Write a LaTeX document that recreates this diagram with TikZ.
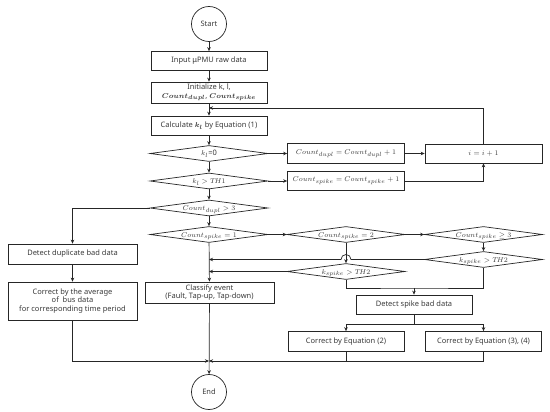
\documentclass[tikz,border=0pt]{standalone}
\usepackage{fontspec}
\setmainfont{Noto Sans}
\usepackage{amsmath}
\usepackage{bm}
\DeclareMathSizes{7.5}{7.5}{6}{5}
\usetikzlibrary{shapes.geometric,arrows.meta}
\definecolor{ink}{HTML}{262626}
\definecolor{textInk}{HTML}{3A3A3A}
\tikzset{
  process box/.style={
    draw=ink,
    fill=white,
    line width=0.7pt,
    font=\fontsize{7.5}{8.6}\selectfont,
    align=center,
    inner sep=0pt,
    text=textInk
  },
  terminal/.style={
    circle,
    draw=ink,
    line width=0.7pt,
    minimum size=35pt,
    inner sep=0pt,
    font=\fontsize{7.5}{9}\selectfont,
    text=textInk
  },
  decision/.style={
    diamond,
    aspect=7,
    draw=ink,
    fill=white,
    line width=0.7pt,
    minimum width=118pt,
    minimum height=16pt,
    inner sep=0pt,
    text height=5pt,
    text depth=0pt,
    font=\fontsize{7.5}{9}\selectfont,
    text=textInk
  },
  flow edge/.style={
    -{Stealth[length=4pt,width=3.5pt]},
    draw=ink,
    line width=0.7pt
  },
  flow line/.style={
    draw=ink,
    line width=0.7pt
  }
}

\begin{document}
\begin{tikzpicture}[x=1pt,y=-1pt]
  \useasboundingbox (0,0) rectangle (550,412);

  % main column
  \node[terminal] (start) at (209,24) {Start};
  \node[process box,minimum width=116pt,minimum height=19pt] (input) at (209,61) {Input μPMU raw data};
  \node[process box,minimum width=116pt,minimum height=21pt] (init) at (209,92.5)
    {Initialize k, l,\\ $\bm{Count_{dupl}}$, $\bm{Count_{spike}}$};
  \node[process box,minimum width=116pt,minimum height=19pt] (calc) at (209,125.5)
    {Calculate $\bm{k_l}$ by Equation (1)};
  \node[decision] (dKzero) at (209,153.5) {$k_l$=0};
  \node[decision] (dKth1) at (209,181) {$k_l > T\!H1$};
  \node[decision] (dDupl3) at (209,208) {$Count_{dupl} > 3$};
  \node[decision] (dSpike1) at (209,234.5) {$Count_{spike} = 1$};
  \node[process box,minimum width=129pt,minimum height=21pt] (classify) at (209.5,292.5)
    {Classify event\\(Fault, Tap-up, Tap-down)};
  \node[terminal] (stop) at (209,392) {End};

  % counters
  \node[process box,minimum width=117pt,minimum height=20pt] (dupInc) at (346,153.5)
    {$Count_{dupl} = Count_{dupl} + 1$};
  \node[process box,minimum width=117pt,minimum height=19pt] (spikeInc) at (346,181)
    {$Count_{spike} = Count_{spike} + 1$};
  \node[process box,minimum width=117pt,minimum height=19pt] (iInc) at (483.5,153.5) {$i = i + 1$};

  % duplicate branch
  \node[process box,minimum width=129pt,minimum height=20pt] (detDup) at (72.5,254) {Detect duplicate bad data};
  \node[process box,minimum width=129pt,minimum height=38pt] (corAvg) at (72.5,301)
    {Correct by the average\\of~ bus data\\for corresponding time period};

  % spike branch
  \node[decision] (dSpike2) at (346,234.5) {$Count_{spike} = 2$};
  \node[decision] (dSpike3) at (483.5,234.5) {$Count_{spike} \geq 3$};
  \node[decision] (dKth2a) at (483.5,259.5) {$k_{spike} > T\!H2$};
  \node[decision] (dKth2b) at (346,271.5) {$k_{spike} > T\!H2$};
  \node[process box,minimum width=116pt,minimum height=19pt] (detSpike) at (414,304.5) {Detect spike bad data};
  \node[process box,minimum width=116pt,minimum height=20pt] (corEq2) at (346,341.5) {Correct by Equation (2)};
  \node[process box,minimum width=116pt,minimum height=20pt] (corEq34) at (483.5,341.5) {Correct by Equation (3), (4)};

  \coordinate (loopIn) at (209,108);
  \coordinate (spikeMerge) at (414,288);
  \coordinate (spikeSplit) at (414,324);
  \coordinate (endMerge) at (209,361);

  \draw[flow edge] (start) -- (input);
  \draw[flow edge] (input) -- (init);
  \draw[flow edge] (init) -- (calc);
  \draw[flow edge] (calc) -- (dKzero);
  \draw[flow edge] (dKzero) -- (dKth1);
  \draw[flow edge] (dKth1) -- (dDupl3);
  \draw[flow edge] (dDupl3) -- (dSpike1);
  \draw[flow edge] (dSpike1) -- (classify);
  \draw[flow edge] (classify) -- (stop);

  \draw[flow edge] (dKzero.east) -- (dupInc.west);
  \draw[flow edge] (dupInc.east) -- (iInc.west);
  \draw[flow edge] (dKth1.east) -- (spikeInc.west);
  \draw[flow edge] (spikeInc.east) -| (iInc.south);
  \draw[flow edge] (iInc.north) |- (loopIn);

  \draw[flow edge] (dDupl3.west) -| (detDup.north);
  \draw[flow edge] (detDup) -- (corAvg);

  \draw[flow edge] (dSpike1.east) -- (dSpike2.west);
  \draw[flow edge] (dSpike2.east) -- (dSpike3.west);
  \draw[flow edge] (dSpike3) -- (dKth2a);
  \draw[flow edge] (dSpike2) -- (dKth2b);
  \draw[flow edge] (dKth2a.west) -- ([xshift=5pt]dKth2b.north |- dKth2a.west)
    arc[start angle=0,end angle=180,radius=5pt] -- (dSpike1.south |- dKth2a.west);
  \draw[flow edge] (dKth2b.west) -- (dSpike1.south |- dKth2b.west);

  \draw[flow line] (dKth2b.south) |- (spikeMerge) -| (dKth2a.south);
  \draw[flow edge] (spikeMerge) -- (detSpike.north);
  \draw[flow line] (detSpike.south) -- (spikeSplit);
  \draw[flow edge] (spikeSplit) -| (corEq2.north);
  \draw[flow edge] (spikeSplit) -| (corEq34.north);

  \draw[flow edge] (corAvg.south) |- (endMerge);
  \draw[flow line] (corEq2.south) -- (corEq2.south |- endMerge);
  \draw[flow edge] (corEq34.south) |- (endMerge);
\end{tikzpicture}
\end{document}
